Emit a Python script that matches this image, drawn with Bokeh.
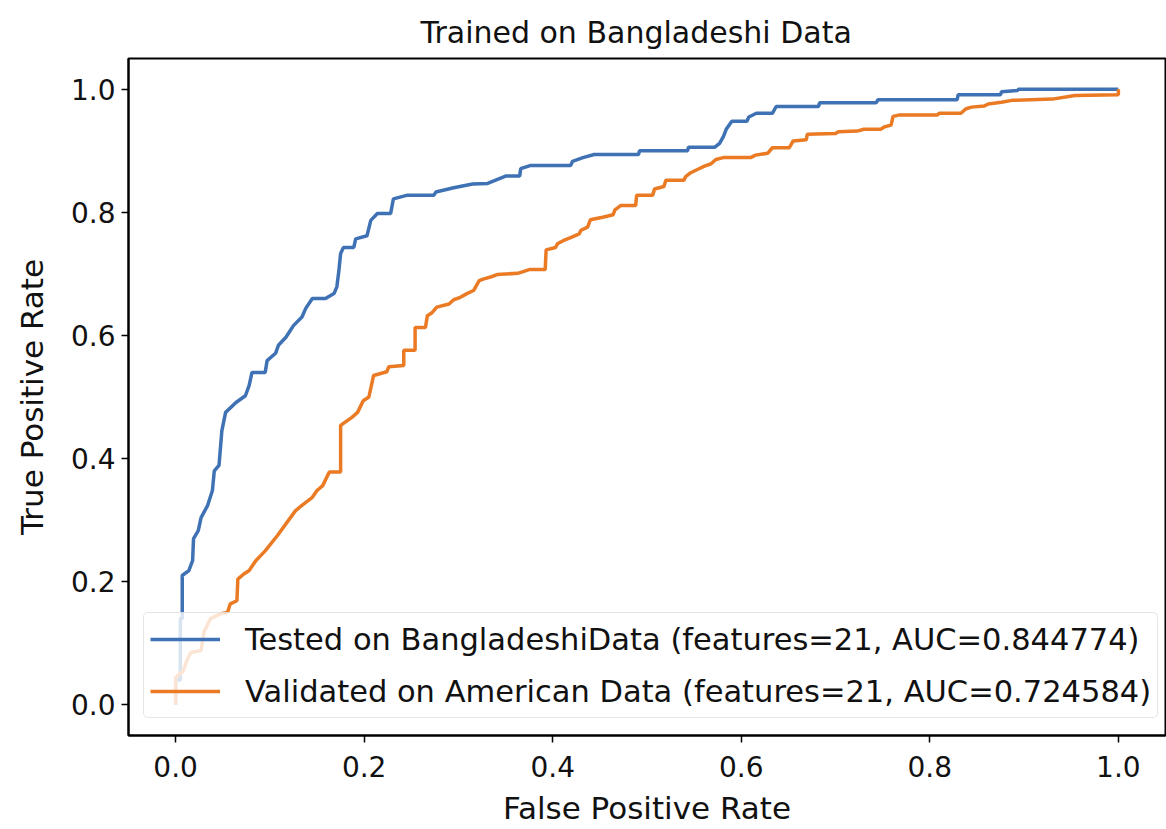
from bokeh.plotting import figure
from bokeh.models import Range1d, FixedTicker, NumeralTickFormatter, Legend, LegendItem
from bokeh.embed import file_html
from bokeh.resources import INLINE

title_text = "Trained on Bangladeshi Data"
x_label = "False Positive Rate"
y_label = "True Positive Rate"
ticks = [0.0, 0.2, 0.4, 0.6, 0.8, 1.0]
label_bd = "Tested on BangladeshiData (features=21, AUC=0.844774)"
label_us = "Validated on American Data (features=21, AUC=0.724584)"

fpr_bd = [0, 0, 0.005, 0.005, 0.007, 0.007, 0.014, 0.018, 0.019, 0.024,
          0.027, 0.034, 0.039, 0.041, 0.046, 0.048, 0.049, 0.053, 0.064, 0.074,
          0.078, 0.081, 0.095, 0.097, 0.106, 0.109, 0.117, 0.125, 0.134, 0.138,
          0.145, 0.159, 0.168, 0.171, 0.173, 0.175, 0.178, 0.189, 0.191, 0.203,
          0.207, 0.214, 0.228, 0.231, 0.246, 0.274, 0.276, 0.295, 0.315, 0.331,
          0.35, 0.365, 0.366, 0.376, 0.419, 0.421, 0.432, 0.444, 0.491, 0.492,
          0.543, 0.544, 0.572, 0.577, 0.581, 0.584, 0.590, 0.606, 0.608, 0.616,
          0.633, 0.637, 0.682, 0.683, 0.743, 0.745, 0.829, 0.830, 0.875, 0.876,
          0.893, 0.894, 1.0]
tpr_bd = [0, 0.04, 0.04, 0.14, 0.14, 0.21, 0.218, 0.234, 0.27, 0.283,
          0.304, 0.324, 0.348, 0.38, 0.389, 0.426, 0.445, 0.475, 0.491, 0.502,
          0.519, 0.54, 0.54, 0.559, 0.571, 0.584, 0.597, 0.616, 0.63, 0.644,
          0.66, 0.66, 0.668, 0.679, 0.703, 0.733, 0.743, 0.743, 0.757, 0.762,
          0.787, 0.798, 0.798, 0.822, 0.828, 0.828, 0.833, 0.840, 0.846, 0.847,
          0.859, 0.859, 0.871, 0.876, 0.876, 0.883, 0.889, 0.894, 0.894, 0.9,
          0.9, 0.906, 0.906, 0.912, 0.923, 0.935, 0.948, 0.948, 0.955, 0.961,
          0.961, 0.972, 0.972, 0.978, 0.978, 0.983, 0.983, 0.991, 0.991, 0.996,
          0.998, 1.0, 1.0]

fpr_us = [0, 0, 0.008, 0.012, 0.016, 0.027, 0.030, 0.037, 0.048, 0.055,
          0.058, 0.065, 0.066, 0.072, 0.078, 0.085, 0.095, 0.108, 0.127, 0.134,
          0.145, 0.150, 0.156, 0.163, 0.175, 0.175, 0.187, 0.193, 0.199, 0.205,
          0.21, 0.224, 0.226, 0.242, 0.242, 0.254, 0.254, 0.265, 0.267, 0.272,
          0.277, 0.29, 0.295, 0.302, 0.309, 0.316, 0.322, 0.327, 0.334, 0.341,
          0.363, 0.375, 0.392, 0.393, 0.403, 0.405, 0.411, 0.419, 0.428, 0.430,
          0.437, 0.440, 0.453, 0.464, 0.466, 0.472, 0.488, 0.489, 0.506, 0.508,
          0.518, 0.520, 0.539, 0.541, 0.546, 0.554, 0.561, 0.568, 0.573, 0.581,
          0.610, 0.615, 0.628, 0.633, 0.651, 0.655, 0.669, 0.670, 0.700, 0.703,
          0.723, 0.730, 0.748, 0.752, 0.759, 0.761, 0.767, 0.808, 0.810, 0.833,
          0.838, 0.844, 0.858, 0.862, 0.876, 0.887, 0.930, 0.954, 1.0, 1.0]
tpr_us = [0, 0.044, 0.055, 0.072, 0.085, 0.088, 0.118, 0.14, 0.148, 0.150,
          0.164, 0.169, 0.204, 0.212, 0.218, 0.234, 0.25, 0.275, 0.315, 0.324,
          0.337, 0.348, 0.356, 0.378, 0.378, 0.454, 0.467, 0.475, 0.494, 0.5,
          0.535, 0.541, 0.549, 0.551, 0.576, 0.576, 0.613, 0.613, 0.632, 0.637,
          0.646, 0.651, 0.658, 0.662, 0.668, 0.673, 0.689, 0.692, 0.695, 0.699,
          0.701, 0.707, 0.707, 0.739, 0.743, 0.749, 0.754, 0.759, 0.765, 0.771,
          0.776, 0.788, 0.792, 0.796, 0.804, 0.811, 0.811, 0.828, 0.828, 0.838,
          0.842, 0.852, 0.852, 0.858, 0.864, 0.870, 0.875, 0.879, 0.886, 0.889,
          0.889, 0.893, 0.896, 0.905, 0.905, 0.916, 0.918, 0.927, 0.928, 0.931,
          0.932, 0.935, 0.935, 0.939, 0.942, 0.956, 0.958, 0.958, 0.961, 0.961,
          0.968, 0.971, 0.973, 0.976, 0.979, 0.982, 0.984, 0.990, 0.991, 1.0]

FONT = "DejaVu Sans"

p = figure(width=1166, height=829, output_backend="svg", toolbar_location=None,
           x_range=Range1d(-0.05, 1.05), y_range=Range1d(-0.05, 1.05),
           min_border_left=128, min_border_right=1, min_border_top=58, min_border_bottom=94)
p.title.text = title_text
p.title.align = "left"
p.title.offset = 292
p.title.standoff = 18
p.title.text_font = FONT
p.title.text_font_size = "30px"
p.title.text_font_style = "normal"
p.title.text_color = "#111111"

p.grid.visible = False
p.outline_line_color = "black"
p.outline_line_width = 2
p.background_fill_color = "white"
p.border_fill_color = "white"

for ax in (p.xaxis[0], p.yaxis[0]):
    ax.ticker = FixedTicker(ticks=ticks)
    ax.formatter = NumeralTickFormatter(format="0.0")
    ax.minor_tick_line_color = None
    ax.major_tick_out = 7
    ax.major_tick_in = 0
    ax.major_tick_line_width = 1.5
    ax.axis_line_width = 2
    ax.major_label_text_font = FONT
    ax.major_label_text_font_size = "28px"
    ax.major_label_text_color = "#111111"
    ax.axis_label_text_font = FONT
    ax.axis_label_text_font_size = "31px"
    ax.axis_label_text_font_style = "normal"
    ax.axis_label_text_color = "#111111"
p.xaxis.axis_label = x_label
p.yaxis.axis_label = y_label
p.xaxis.major_label_standoff = 13
p.yaxis.major_label_standoff = 6
p.xaxis.axis_label_standoff = 10
p.yaxis.axis_label_standoff = 18

r1 = p.line(fpr_bd, tpr_bd, line_color="#3e72b4", line_width=3.5)
r2 = p.line(fpr_us, tpr_us, line_color="#ea7a24", line_width=3.5)

legend = Legend(items=[LegendItem(label=label_bd, renderers=[r1]),
                       LegendItem(label=label_us, renderers=[r2])],
                location=(15, 17))
legend.label_text_font = FONT
legend.label_text_font_size = "30.5px"
legend.label_text_color = "#111111"
legend.glyph_width = 70
legend.glyph_height = 40
legend.label_height = 40
legend.label_standoff = 25
legend.spacing = 12
legend.padding = 6
legend.margin = 0
legend.border_line_color = "#cccccc"
legend.border_line_width = 1.5
legend.border_radius = 5
legend.background_fill_color = "white"
legend.background_fill_alpha = 0.8
p.add_layout(legend, "center")

open("out.html", "w").write(file_html(p, INLINE))
